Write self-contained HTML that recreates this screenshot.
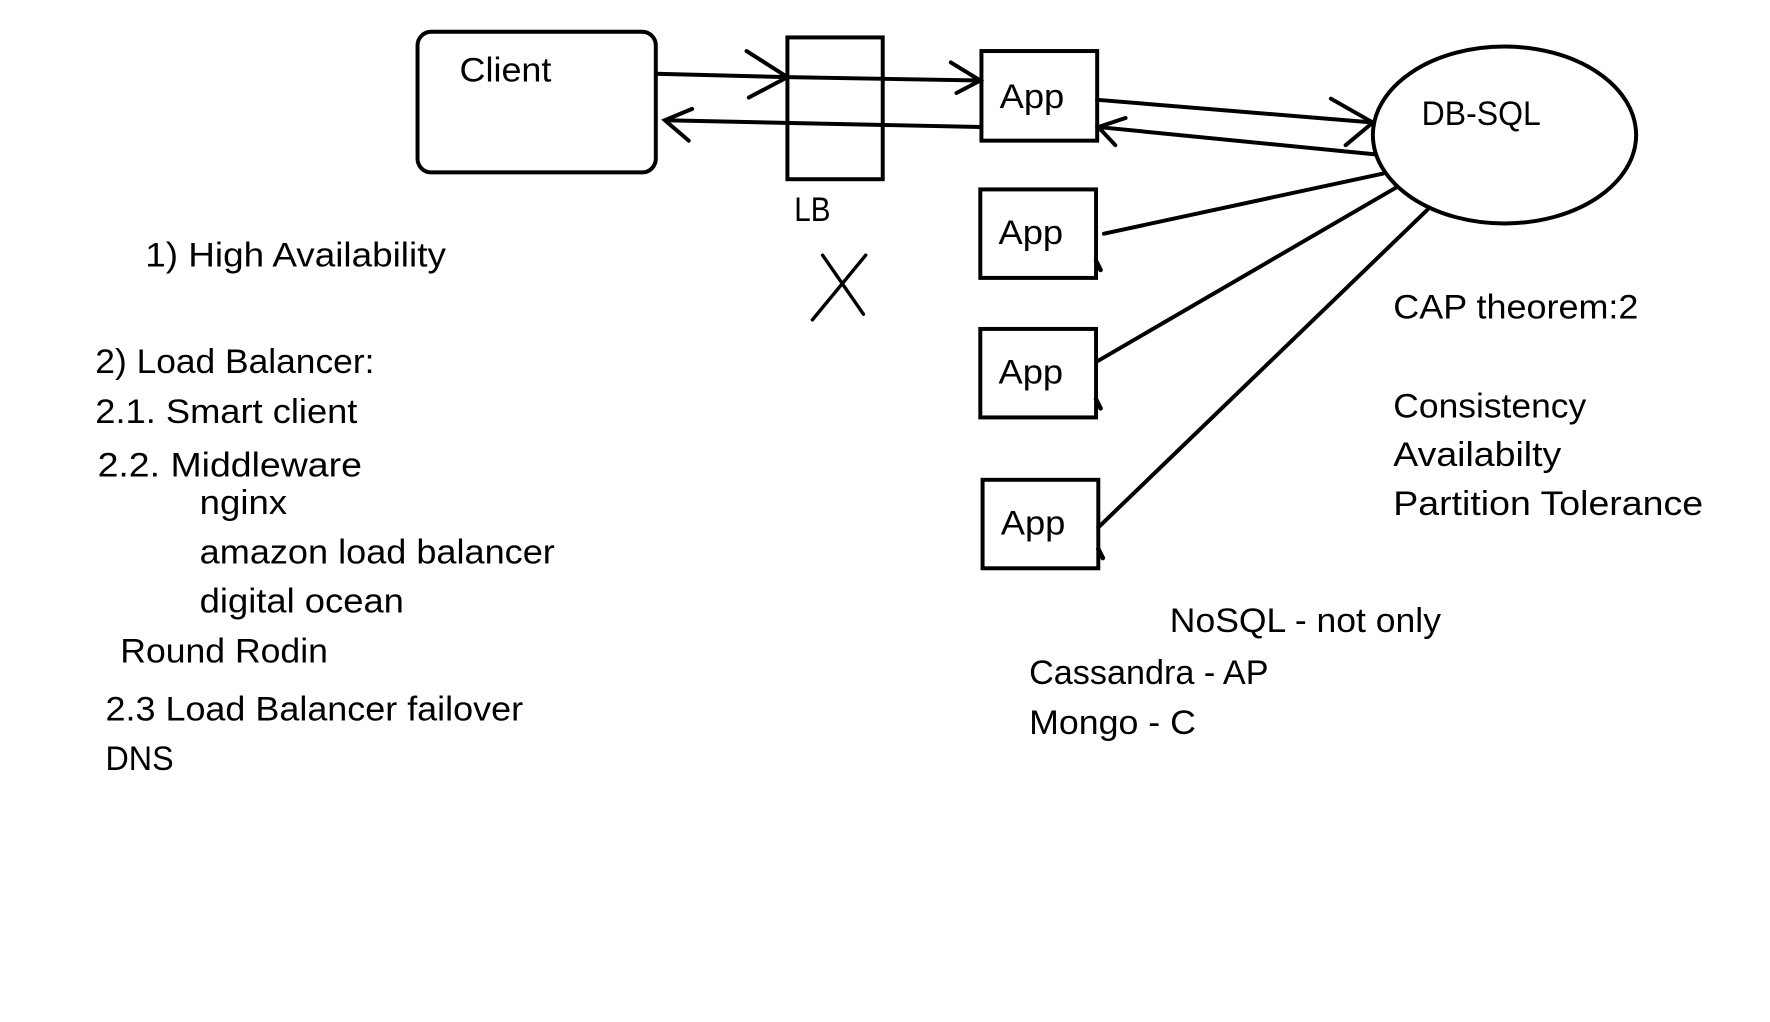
<!DOCTYPE html>
<html><head><meta charset="utf-8"><style>html,body{margin:0;padding:0;background:#fff;}svg{display:block;}</style></head>
<body>
<svg width="1770" height="1022" viewBox="0 0 1560 901" preserveAspectRatio="none" xmlns="http://www.w3.org/2000/svg">
<rect width="1560" height="901" fill="#fff"/>
<g transform="translate(-2,0)">
<g fill="none" stroke="#000" stroke-width="3.5" stroke-linecap="round">
<rect x="370" y="28" width="210" height="124" rx="12"/>
<rect x="696" y="33" width="84" height="125"/>
<path d="M580 65 L696 68 M660 45 L696 68 L662 86"/>
<path d="M696 68 L866 71 M840 55 L866 71 L845 82"/>
<path d="M866 112 L588 106 M612 96 L588 106 L609 124"/>
<path d="M727 225 L763 277 M765 225 L718 282" stroke-width="3"/>
<rect x="867" y="45" width="102" height="79"/>
<rect x="866" y="167" width="102" height="78"/>
<rect x="866" y="290" width="102" height="78"/>
<rect x="868" y="423" width="102" height="78"/>
<ellipse cx="1328" cy="119" rx="116" ry="78"/>
<path d="M969 88 L1212 108 M1175 87 L1212 108 L1188 128"/>
<path d="M1213 136 L970 112 M994 104 L970 112 L985 128"/>
<path d="M1221 153 L975 206"/>
<path d="M1233 165 L970 318"/>
<path d="M1260 185 L970 465"/>
<path d="M968 230 L972 238 M968 352 L972 360 M970 484 L974 492" stroke-width="4"/>
</g>
<g font-family="Liberation Sans, sans-serif" font-size="30" fill="#000">
<text x="407" y="72" textLength="81" lengthAdjust="spacingAndGlyphs">Client</text>
<text x="702" y="195" textLength="32" lengthAdjust="spacingAndGlyphs">LB</text>
<text x="883" y="95" textLength="57" lengthAdjust="spacingAndGlyphs">App</text>
<text x="882" y="215" textLength="57" lengthAdjust="spacingAndGlyphs">App</text>
<text x="882" y="338" textLength="57" lengthAdjust="spacingAndGlyphs">App</text>
<text x="884" y="471" textLength="57" lengthAdjust="spacingAndGlyphs">App</text>
<text x="1255" y="110" textLength="105" lengthAdjust="spacingAndGlyphs">DB-SQL</text>
<text x="1230" y="281" textLength="216" lengthAdjust="spacingAndGlyphs">CAP theorem:2</text>
<text x="1230" y="368" textLength="170" lengthAdjust="spacingAndGlyphs">Consistency</text>
<text x="1230" y="411" textLength="148" lengthAdjust="spacingAndGlyphs">Availabilty</text>
<text x="1230" y="454" textLength="273" lengthAdjust="spacingAndGlyphs">Partition Tolerance</text>
<text x="1033" y="557" textLength="239" lengthAdjust="spacingAndGlyphs">NoSQL - not only</text>
<text x="909" y="603" textLength="211" lengthAdjust="spacingAndGlyphs">Cassandra - AP</text>
<text x="909" y="647" textLength="147" lengthAdjust="spacingAndGlyphs">Mongo - C</text>
<text x="130" y="235" textLength="265" lengthAdjust="spacingAndGlyphs">1) High Availability</text>
<text x="86" y="329" textLength="246" lengthAdjust="spacingAndGlyphs">2) Load Balancer:</text>
<text x="86" y="373" textLength="231" lengthAdjust="spacingAndGlyphs">2.1. Smart client</text>
<text x="88" y="420" textLength="233" lengthAdjust="spacingAndGlyphs">2.2. Middleware</text>
<text x="178" y="453" textLength="77" lengthAdjust="spacingAndGlyphs">nginx</text>
<text x="178" y="497" textLength="313" lengthAdjust="spacingAndGlyphs">amazon load balancer</text>
<text x="178" y="540" textLength="180" lengthAdjust="spacingAndGlyphs">digital ocean</text>
<text x="108" y="584" textLength="183" lengthAdjust="spacingAndGlyphs">Round Rodin</text>
<text x="95" y="635" textLength="368" lengthAdjust="spacingAndGlyphs">2.3 Load Balancer failover</text>
<text x="95" y="679" textLength="60" lengthAdjust="spacingAndGlyphs">DNS</text>
</g>
</g>
</svg>
</body></html>
